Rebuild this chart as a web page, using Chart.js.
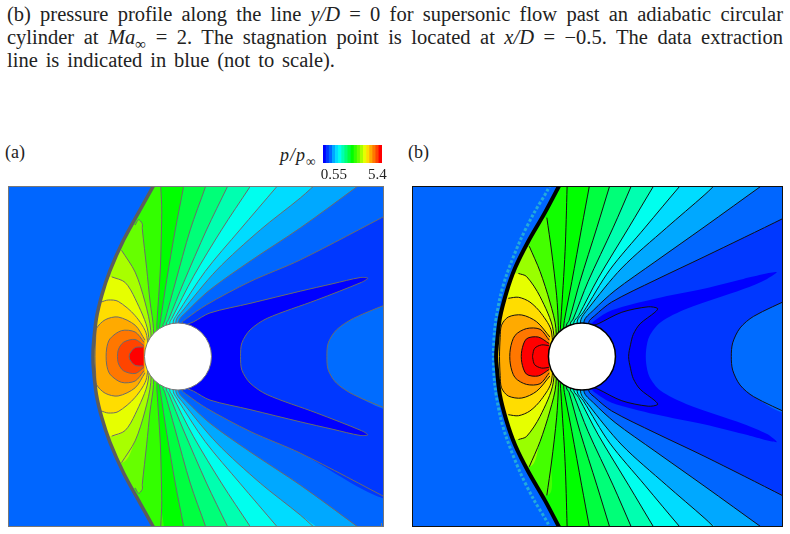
<!DOCTYPE html>
<html>
<head>
<meta charset="utf-8">
<title>p/p_inf contours</title>
<script src="https://cdn.jsdelivr.net/npm/chart.js@4"></script>
<style>
    html, body { margin: 0; padding: 0; background: #fff; }
    body { width: 790px; height: 534px; position: relative; overflow: hidden; font-family: "Liberation Serif", serif; color: #222; }
    .linea { position: absolute; left: 7px; width: 776px; font-size: 20.5px; line-height: 23px; white-space: nowrap; text-align: justify; text-align-last: justify; }
    .etiqueta { position: absolute; font-size: 18px; line-height: 20px; }
    .panel { position: absolute; box-sizing: border-box; border: 1px solid #777; background: #0066ff; }
    .panel canvas, #barra { display: block; }
    .panel canvas { filter: blur(0.4px); }
    #barra { position: absolute; left: 306px; top: 145px; }
    sub { font-size: 75%; line-height: 0; }
</style>
</head>
<body>
<div class="linea" style="top:3px">(b) pressure profile along the line <i>y/D</i> = 0 for supersonic flow past an adiabatic circular</div>
<div class="linea" style="top:26px">cylinder at <i>Ma</i><sub>∞</sub> = 2. The stagnation point is located at <i>x/D</i> = −0.5. The data extraction</div>
<div class="linea" style="top:49px;width:328px">line is indicated in blue (not to scale).</div>
<div class="etiqueta" style="left:5px;top:142px">(a)</div>
<div class="etiqueta" style="left:408px;top:142px">(b)</div>
<div class="etiqueta" style="left:280px;top:145px;letter-spacing:1px"><i>p/p</i><sub>∞</sub></div>
<canvas id="barra" width="90" height="40"></canvas>
<div class="panel" style="left:8px;top:186px;width:376px;height:341px"><canvas id="chartA" width="374" height="339"></canvas></div>
<div class="panel" style="left:412px;top:186px;width:371px;height:341px;border-color:#111"><canvas id="chartB" width="369" height="339"></canvas></div>

<script>
// legend
const barColors = ["#0000ff","#0038ff","#0066ff","#00a8ff","#00dcff","#00ffee","#00ffb0","#00ff78","#00ff40","#00ff00","#33ff00","#66ff00","#a8ff00","#e6ff00","#ffdd00","#ffaa00","#ff7700","#ff4400","#ff0000"];
const barLabels = ["","","","0.55","","","","","","","","","","","","","","5.4",""];
const barValues = [1,1,1,1,1,1,1,1,1,1,1,1,1,1,1,1,1,1,1];

const cylinderCenter = [[0, 0]];
const xTicks = [-2, -1, 0, 1, 2, 3];
const yTicks = [-2, -1, 0, 1, 2];

// panel (a), contour lines in x/D, y/D
const aShock = [[-0.31,2.6],[-0.37,2.49],[-0.56,2.15],[-0.80,1.71],[-1.0,1.26],[-1.12,0.90],[-1.20,0.56],[-1.245,0.16],[-1.25,0],[-1.245,-0.16],[-1.20,-0.56],[-1.12,-0.90],[-1.0,-1.26],[-0.80,-1.71],[-0.56,-2.15],[-0.37,-2.49],[-0.31,-2.6]];
const aEdge = [[3.15,2.12],[1.80,1.42],[1.06,1.10],[0.42,0.76],[0.13,0.56],[0.06,0.49],[0.06,-0.49],[0.13,-0.56],[0.42,-0.76],[1.06,-1.10],[1.80,-1.42],[3.15,-2.12]];
const aLobe = [[0.13,0.47],[0.23,0.51],[0.47,0.64],[1.06,0.78],[1.80,0.96],[2.28,1.07],[2.68,1.16],[2.79,1.15],[2.70,1.09],[2.04,0.83],[1.31,0.56],[1.06,0.39],[0.94,0.20],[0.92,0],[0.94,-0.20],[1.06,-0.39],[1.31,-0.56],[2.04,-0.83],[2.70,-1.09],[2.79,-1.15],[2.68,-1.16],[2.28,-1.07],[1.80,-0.96],[1.06,-0.78],[0.47,-0.64],[0.23,-0.51],[0.13,-0.47]];
const aFar = [[3.15,0.80],[2.58,0.56],[2.33,0.39],[2.21,0.20],[2.19,0],[2.21,-0.20],[2.33,-0.39],[2.58,-0.56],[3.15,-0.80]];
const aRay1 = [[2.77,2.6],[2.64,2.5],[1.80,1.89],[1.06,1.40],[0.47,0.98],[0.13,0.66],[0.01,0.51],[0.01,-0.51],[0.13,-0.66],[0.47,-0.98],[1.06,-1.40],[1.80,-1.89],[2.64,-2.5],[2.77,-2.6]];
const aRay2 = [[2.10,2.6],[1.80,2.33],[1.21,1.86],[0.57,1.27],[0.06,0.66],[-0.03,0.52],[-0.03,-0.52],[0.06,-0.66],[0.57,-1.27],[1.21,-1.86],[1.80,-2.33],[2.10,-2.6]];
const aRay3 = [[1.54,2.6],[1.44,2.48],[0.91,1.86],[0.40,1.25],[-0.02,0.61],[-0.07,0.51],[-0.07,-0.51],[-0.02,-0.61],[0.40,-1.25],[0.91,-1.86],[1.44,-2.48],[1.54,-2.6]];
const aRay4 = [[1.13,2.6],[1.05,2.48],[0.64,1.86],[0.23,1.18],[-0.09,0.56],[-0.12,0.50],[-0.12,-0.50],[-0.09,-0.56],[0.23,-1.18],[0.64,-1.86],[1.05,-2.48],[1.13,-2.6]];
const aRay5 = [[0.78,2.6],[0.72,2.48],[0.42,1.86],[0.08,1.08],[-0.14,0.54],[-0.17,0.49],[-0.17,-0.49],[-0.14,-0.54],[0.08,-1.08],[0.42,-1.86],[0.72,-2.48],[0.78,-2.6]];
const aRay6 = [[0.44,2.6],[0.40,2.48],[0.18,1.86],[-0.04,1.08],[-0.20,0.51],[-0.22,0.47],[-0.22,-0.47],[-0.20,-0.51],[-0.04,-1.08],[0.18,-1.86],[0.40,-2.48],[0.44,-2.6]];
const aRay7 = [[0.10,2.6],[0.08,2.48],[-0.04,1.86],[-0.165,1.13],[-0.26,0.51],[-0.27,0.43],[-0.27,-0.43],[-0.26,-0.51],[-0.165,-1.13],[-0.04,-1.86],[0.08,-2.48],[0.10,-2.6]];
const aRay8 = [[-0.26,2.6],[-0.24,2.22],[-0.24,2.01],[-0.26,1.27],[-0.31,0.49],[-0.31,0.40],[-0.31,-0.40],[-0.31,-0.49],[-0.26,-1.27],[-0.24,-2.01],[-0.24,-2.22],[-0.26,-2.6]];
const aLens1 = [[-0.63,1.93],[-0.58,2.01],[-0.525,1.95],[-0.525,1.88],[-0.46,1.29],[-0.41,0.80],[-0.36,0.41],[-0.36,-0.41],[-0.41,-0.80],[-0.46,-1.29],[-0.525,-1.88],[-0.525,-1.95],[-0.58,-2.01],[-0.63,-1.93]];
const aLens2 = [[-0.83,1.56],[-0.63,1.24],[-0.485,0.80],[-0.40,0.38],[-0.40,-0.38],[-0.485,-0.80],[-0.63,-1.24],[-0.83,-1.56]];
const aLens3 = [[-0.975,1.17],[-0.78,1.09],[-0.63,0.85],[-0.44,0.36],[-0.44,-0.36],[-0.63,-0.85],[-0.78,-1.09],[-0.975,-1.17]];
const aLens4 = [[-1.13,0.80],[-1.025,0.83],[-0.88,0.81],[-0.63,0.60],[-0.46,0.31],[-0.46,-0.31],[-0.63,-0.60],[-0.88,-0.81],[-1.025,-0.83],[-1.13,-0.80]];
const aOrange = [[-0.485,0.24],[-0.63,0.46],[-0.88,0.58],[-1.07,0.54],[-1.20,0.41],[-1.21,0.28],[-1.22,0],[-1.21,-0.28],[-1.20,-0.41],[-1.07,-0.54],[-0.88,-0.58],[-0.63,-0.46],[-0.485,-0.24]];
const aDark = [[-0.50,0.21],[-0.63,0.36],[-0.83,0.38],[-1.0,0.26],[-1.05,0.11],[-1.05,-0.11],[-1.0,-0.26],[-0.83,-0.38],[-0.63,-0.36],[-0.50,-0.21]];
const aRedOrange = [[-0.50,0.16],[-0.63,0.25],[-0.80,0.21],[-0.88,0.09],[-0.88,-0.09],[-0.80,-0.21],[-0.63,-0.25],[-0.50,-0.16]];
const aRed = [[-0.51,0.14],[-0.63,0.13],[-0.71,0.04],[-0.71,-0.04],[-0.63,-0.13],[-0.51,-0.14]];

const aOpenLines = [aRay1, aRay2, aRay3, aRay4, aRay5, aRay6, aRay7, aRay8, aLens1, aLens2, aLens3, aLens4];
const aOpenColors = ["#00a8ff","#00dcff","#00ffee","#00ffb0","#00ff78","#00ff40","#00ff00","#33ff00","#66ff00","#a8ff00","#e6ff00","#ffdd00"];
const aClosedLines = [aOrange, aDark, aRedOrange, aRed];
const aClosedColors = ["#ffaa00","#ff7700","#ff4400","#ff0000"];

// panel (b)
const bShock = [[-0.29,2.6],[-0.336,2.51],[-0.55,2.11],[-0.795,1.69],[-0.99,1.30],[-1.115,0.95],[-1.215,0.56],[-1.26,0.16],[-1.27,0],[-1.26,-0.16],[-1.215,-0.56],[-1.115,-0.95],[-0.99,-1.30],[-0.795,-1.69],[-0.55,-2.11],[-0.336,-2.51],[-0.29,-2.6]];
const bSpeckle = [[-0.45,2.6],[-0.50,2.46],[-0.72,2.09],[-0.92,1.69],[-1.115,1.2],[-1.215,0.855],[-1.29,0.41],[-1.31,0],[-1.29,-0.41],[-1.215,-0.855],[-1.115,-1.2],[-0.92,-1.69],[-0.72,-2.09],[-0.50,-2.46],[-0.45,-2.6]];
const bEdge = [[3.1,2.1],[2.98,2.03],[1.82,1.47],[1.08,1.12],[0.44,0.80],[0.19,0.60],[0.10,0.50],[0.10,-0.50],[0.19,-0.60],[0.44,-0.80],[1.08,-1.12],[1.82,-1.47],[2.98,-2.05],[3.1,-2.12]];
const bLobeWide = [[0.12,0.46],[0.19,0.53],[0.44,0.68],[1.08,0.85],[1.82,1.0],[2.39,1.14],[2.88,1.24],[2.74,1.14],[2.39,0.99],[1.55,0.70],[1.16,0.50],[1.0,0.30],[0.95,0.10],[0.95,-0.10],[1.0,-0.30],[1.16,-0.50],[1.55,-0.70],[2.39,-0.99],[2.74,-1.14],[2.88,-1.26],[2.39,-1.14],[1.82,-1.0],[1.08,-0.85],[0.44,-0.68],[0.19,-0.53],[0.12,-0.46]];
const bLobeInner = [[0.18,0.46],[0.24,0.48],[0.59,0.65],[0.98,0.73],[1.12,0.706],[1.08,0.65],[0.86,0.48],[0.76,0.326],[0.72,0.18],[0.69,0],[0.72,-0.18],[0.76,-0.326],[0.86,-0.48],[1.08,-0.65],[1.12,-0.706],[0.98,-0.73],[0.59,-0.65],[0.24,-0.48],[0.18,-0.46]];
const bFar = [[3.1,0.86],[2.54,0.59],[2.34,0.42],[2.23,0.20],[2.21,0],[2.23,-0.20],[2.34,-0.42],[2.54,-0.59],[3.1,-0.86]];
const bRay1 = [[2.79,2.6],[2.66,2.51],[1.82,1.91],[1.08,1.39],[0.49,0.97],[0.17,0.68],[0.03,0.51],[0.03,-0.51],[0.17,-0.68],[0.49,-0.97],[1.08,-1.39],[1.82,-1.91],[2.66,-2.51],[2.79,-2.6]];
const bRay2 = [[2.05,2.6],[1.82,2.38],[1.25,1.89],[0.59,1.30],[0.09,0.70],[-0.02,0.52],[-0.02,-0.52],[0.09,-0.70],[0.59,-1.30],[1.25,-1.89],[1.82,-2.38],[2.05,-2.6]];
const bRay3 = [[1.54,2.6],[1.45,2.505],[0.93,1.89],[0.41,1.27],[0.02,0.65],[-0.07,0.52],[-0.07,-0.52],[0.02,-0.65],[0.41,-1.27],[0.93,-1.89],[1.45,-2.505],[1.54,-2.6]];
const bRay4 = [[1.12,2.6],[1.06,2.505],[0.69,1.89],[0.24,1.15],[-0.05,0.60],[-0.12,0.50],[-0.12,-0.50],[-0.05,-0.60],[0.24,-1.15],[0.69,-1.89],[1.06,-2.505],[1.12,-2.6]];
const bRay5 = [[0.77,2.6],[0.73,2.505],[0.46,1.89],[0.09,1.10],[-0.13,0.55],[-0.17,0.49],[-0.17,-0.49],[-0.13,-0.55],[0.09,-1.10],[0.46,-1.89],[0.73,-2.505],[0.77,-2.6]];
const bRay6 = [[0.44,2.6],[0.41,2.505],[0.22,1.89],[-0.03,1.10],[-0.19,0.53],[-0.23,0.46],[-0.23,-0.46],[-0.19,-0.53],[-0.03,-1.10],[0.22,-1.89],[0.41,-2.505],[0.44,-2.6]];
const bRay7 = [[0.13,2.6],[0.11,2.505],[-0.005,1.89],[-0.15,1.10],[-0.26,0.53],[-0.27,0.43],[-0.27,-0.43],[-0.26,-0.53],[-0.15,-1.10],[-0.005,-1.89],[0.11,-2.505],[0.13,-2.6]];
const bRay8 = [[-0.22,2.6],[-0.22,2.49],[-0.25,1.54],[-0.31,0.55],[-0.32,0.40],[-0.32,-0.40],[-0.31,-0.55],[-0.25,-1.54],[-0.22,-2.49],[-0.22,-2.6]];
const bLens1 = [[-0.52,2.04],[-0.45,1.55],[-0.375,0.90],[-0.35,0.46],[-0.35,-0.46],[-0.375,-0.90],[-0.45,-1.55],[-0.52,-2.04]];
const bLens2 = [[-0.78,1.62],[-0.62,1.25],[-0.474,0.80],[-0.385,0.41],[-0.385,-0.41],[-0.474,-0.80],[-0.62,-1.25],[-0.78,-1.62]];
const bLens3 = [[-0.94,1.22],[-0.82,1.175],[-0.62,0.88],[-0.425,0.385],[-0.425,-0.385],[-0.62,-0.88],[-0.82,-1.175],[-0.94,-1.22]];
const bLens4 = [[-1.09,0.855],[-0.94,0.87],[-0.77,0.80],[-0.60,0.63],[-0.45,0.36],[-0.45,-0.36],[-0.60,-0.63],[-0.77,-0.80],[-0.94,-0.87],[-1.09,-0.855]];
const bOrange = [[-0.474,0.286],[-0.67,0.51],[-0.89,0.61],[-1.09,0.58],[-1.19,0.46],[-1.21,0.28],[-1.22,0],[-1.21,-0.28],[-1.19,-0.46],[-1.09,-0.58],[-0.89,-0.61],[-0.67,-0.51],[-0.474,-0.286]];
const bDark = [[-0.484,0.24],[-0.62,0.40],[-0.82,0.41],[-0.99,0.31],[-1.06,0.11],[-1.06,-0.11],[-0.99,-0.31],[-0.82,-0.41],[-0.62,-0.40],[-0.484,-0.24]];
const bRed = [[-0.484,0.19],[-0.647,0.286],[-0.82,0.26],[-0.89,0.09],[-0.89,-0.09],[-0.82,-0.26],[-0.647,-0.286],[-0.484,-0.19]];
const bRedInner = [[-0.49,0.16],[-0.60,0.17],[-0.70,0.12],[-0.73,0.015],[-0.73,-0.015],[-0.70,-0.12],[-0.60,-0.17],[-0.49,-0.16]];

const bOpenLines = [bRay1, bRay2, bRay3, bRay4, bRay5, bRay6, bRay7, bRay8, bLens1, bLens2, bLens3, bLens4];
const bOpenColors = ["#00a8ff","#00dcff","#00ffee","#00ffb0","#00ff78","#00ff40","#00ff00","#11ff00","#44ff00","#99ff00","#e6ff00","#ffdd00"];
const bClosedLines = [bOrange, bDark, bRed, bRedInner];
const bClosedColors = ["#ffaa00","#ff7700","#ff0000","#ff0000"];

const puntos = lista => lista.map(p => ({ x: p[0], y: p[1] }));

// the band is closed far behind the shock, the free stream is painted over it later
function cerrarIzq(lista) {
    const a = lista[0], b = lista[lista.length - 1];
    return [...lista, [-4, b[1]], [-4, a[1]]];
}

function cerrarDer(lista) {
    const a = lista[0], b = lista[lista.length - 1];
    return [...lista, [5, b[1]], [5, a[1]]];
}

function relleno(lista, color) {
    return { data: puntos(lista), showLine: true, fill: "shape", backgroundColor: color, borderWidth: 0, pointRadius: 0, tension: 0.3 };
}

function linea(lista, color, ancho) {
    return { data: puntos(lista), showLine: true, fill: false, borderColor: color, borderWidth: ancho, pointRadius: 0, tension: 0.3 };
}

function crearPanel(id, capas, xMin, xMax, conTicks, colorTicks) {
    // first in the list is painted first
    capas.forEach((c, i) => { c.order = capas.length - i; });

    new Chart(document.getElementById(id), {
        type: "scatter",
        data: { datasets: capas },
        options: {
            responsive: false,
            animation: false,
            events: [],
            layout: { padding: 0, autoPadding: false },
            elements: { line: { capBezierPoints: false } },
            plugins: { legend: { display: false }, tooltip: { enabled: false } },
            scales: {
                x: {
                    type: "linear", min: xMin, max: xMax,
                    afterFit: s => { s.height = 0; },
                    afterBuildTicks: s => { s.ticks = xTicks.map(v => ({ value: v })); },
                    border: { display: false },
                    ticks: { display: false },
                    grid: { drawOnChartArea: false, drawTicks: conTicks, tickLength: -3, color: colorTicks }
                },
                y: {
                    type: "linear", min: -2.49, max: 2.49,
                    afterFit: s => { s.width = 0; },
                    afterBuildTicks: s => { s.ticks = yTicks.map(v => ({ value: v })); },
                    border: { display: false },
                    ticks: { display: false },
                    grid: { drawOnChartArea: false, drawTicks: conTicks, tickLength: -3, color: colorTicks }
                }
            }
        }
    });
}

function capasPanelA() {
    const capas = [
        relleno(cerrarDer(aEdge), "#0038ff"),
        relleno(aLobe, "#0000ff"),
        relleno(cerrarDer(aFar), "#006cff")
    ];
    aOpenLines.forEach((l, i) => capas.push(relleno(cerrarIzq(l), aOpenColors[i])));
    aClosedLines.forEach((l, i) => capas.push(relleno(l, aClosedColors[i])));
    capas.push(relleno(cerrarIzq(aShock), "#0066ff"));

    [aEdge, aLobe, aFar, ...aOpenLines, ...aClosedLines].forEach(l => capas.push(linea(l, "#6b6b6b", 1)));
    capas.push(linea(aShock, "#5c5c5c", 3.5));
    capas.push({ data: puntos(cylinderCenter), pointRadius: 33.5, pointBackgroundColor: "#fff", pointBorderColor: "#777", pointBorderWidth: 1 });
    return capas;
}

function capasPanelB() {
    const capas = [
        relleno(cerrarDer(bEdge), "#0038ff"),
        relleno(bLobeWide, "#0000ff"),
        relleno(bLobeInner, "#0018ff"),
        relleno(cerrarDer(bFar), "#006cff")
    ];
    bOpenLines.forEach((l, i) => capas.push(relleno(cerrarIzq(l), bOpenColors[i])));
    bClosedLines.forEach((l, i) => capas.push(relleno(l, bClosedColors[i])));
    capas.push(relleno(cerrarIzq(bShock), "#0066ff"));

    [bEdge, bLobeInner, bFar, ...bOpenLines, ...bClosedLines].forEach(l => capas.push(linea(l, "#111", 1)));
    const moteado = linea(bSpeckle, "#22aadd", 3);
    moteado.borderDash = [3, 2];
    capas.push(moteado);
    capas.push(linea(bShock, "#000", 4));
    capas.push({ data: puntos(cylinderCenter), pointRadius: 33.5, pointBackgroundColor: "#fff", pointBorderColor: "#000", pointBorderWidth: 1.5 });
    return capas;
}

crearPanel("chartA", capasPanelA(), -2.485, 3.015, true, "#777");
crearPanel("chartB", capasPanelB(), -2.5, 2.96, false, "#000");

new Chart(document.getElementById("barra"), {
    type: "bar",
    data: {
        labels: barLabels,
        datasets: [{ data: barValues, backgroundColor: barColors, barPercentage: 1, categoryPercentage: 1 }]
    },
    options: {
        responsive: false,
        animation: false,
        events: [],
        layout: { padding: { left: 17, right: 14 }, autoPadding: false },
        plugins: { legend: { display: false }, tooltip: { enabled: false } },
        scales: {
            x: {
                afterFit: s => { s.height = 22; },
                grid: { display: false, drawTicks: false },
                border: { display: false },
                ticks: { autoSkip: false, maxRotation: 0, padding: 3, color: "#222", font: { family: "Liberation Serif", size: 15 } }
            },
            y: { display: false, min: 0, max: 1 }
        }
    }
});
</script>
</body>
</html>
